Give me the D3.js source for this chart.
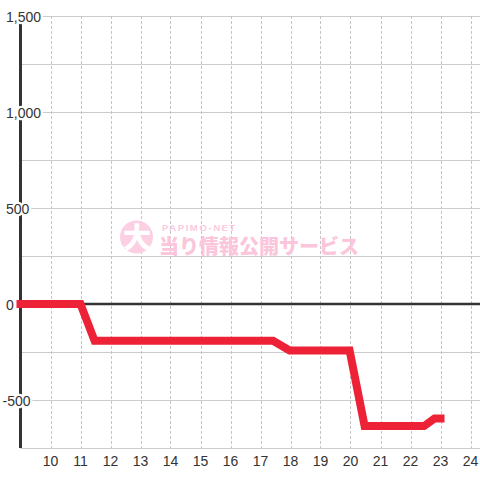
<!DOCTYPE html>
<html>
<head>
<meta charset="utf-8">
<script src="https://cdn.jsdelivr.net/npm/d3@7"></script>
<style>
  html, body { margin: 0; padding: 0; background: #ffffff; }
  svg { display: block; }
</style>
</head>
<body>
<svg id="chart" width="480" height="480"></svg>
<script>
// ---- data ----
const hours = [9, 11, 11.47, 17.42, 17.97, 19.97, 20.47, 22.45, 22.8, 23];
const values = [0, 0, -192, -192, -242, -242, -636, -636, -596, -596];
const xTicks = [10, 11, 12, 13, 14, 15, 16, 17, 18, 19, 20, 21, 22, 23, 24];
const yTicks = [1500, 1000, 500, 0, -500];
const yGrid = [1500, 1250, 1000, 750, 500, 250, -250, -500, -750];

const W = 480, H = 480;
const svg = d3.select("#chart");

const x = d3.scaleLinear().domain([9, 24]).range([20.5, 470.5]);
const y = d3.scaleLinear().domain([-750, 1500]).range([448, 16]);

const font = "'Liberation Sans', Arial, sans-serif";
const textColor = "#333";

// horizontal grid
svg.append("g").selectAll("line").data(yGrid).join("line")
  .attr("x1", x(9)).attr("x2", W)
  .attr("y1", d => Math.round(y(d)) + 0.5).attr("y2", d => Math.round(y(d)) + 0.5)
  .attr("stroke", "#cccccc").attr("stroke-width", 1);

// vertical dotted grid
svg.append("g").selectAll("line").data(xTicks).join("line")
  .attr("x1", d => Math.round(x(d)) + 0.5).attr("x2", d => Math.round(x(d)) + 0.5)
  .attr("y1", y(1500)).attr("y2", y(-750))
  .attr("stroke", "#c4c4c4").attr("stroke-width", 1)
  .attr("stroke-dasharray", "3,2");

// watermark
const wm = svg.append("g").attr("opacity", 1);
wm.append("circle").attr("cx", 136.5).attr("cy", 237).attr("r", 16.5).attr("fill", "#fcd0e2");
wm.append("text").attr("x", 137).attr("y", 248).attr("text-anchor", "middle")
  .attr("font-family", "'Noto Sans CJK JP', sans-serif").attr("font-weight", 900)
  .attr("font-size", 28).attr("fill", "#ffffff").text("大");
wm.append("text").attr("x", 162).attr("y", 231)
  .attr("font-family", "'Liberation Sans', Arial, sans-serif").attr("font-weight", "bold")
  .attr("font-size", 9.5).attr("letter-spacing", 1.6).attr("fill", "#fbcade").text("PAPIMO-NET");
wm.append("text").attr("x", 159).attr("y", 254)
  .attr("font-family", "'Noto Sans CJK JP', sans-serif").attr("font-weight", 900)
  .attr("font-size", 20).attr("fill", "#fbc6dc").text("当り情報公開サービス");

// zero line
svg.append("line")
  .attr("x1", x(9)).attr("x2", W)
  .attr("y1", y(0)).attr("y2", y(0))
  .attr("stroke", "#333").attr("stroke-width", 2.5);

// y axis line
svg.append("line")
  .attr("x1", x(9)).attr("x2", x(9))
  .attr("y1", y(1500)).attr("y2", y(-750))
  .attr("stroke", "#333").attr("stroke-width", 3);

// y tick labels with halo
svg.append("g").selectAll("text").data(yTicks).join("text")
  .attr("x", d => d < 0 ? 2.5 : 6)
  .attr("y", d => y(d) + 5.5)
  .attr("font-family", font).attr("font-size", 14)
  .attr("fill", textColor)
  .attr("stroke", "#ffffff").attr("stroke-width", 4.5)
  .attr("paint-order", "stroke")
  .attr("stroke-linejoin", "round")
  .text(d => d3.format(",")(d).replace("−", "-"));

// x tick labels
svg.append("g").selectAll("text").data(xTicks).join("text")
  .attr("x", d => x(d))
  .attr("y", 465.5)
  .attr("text-anchor", "middle")
  .attr("font-family", font).attr("font-size", 14)
  .attr("fill", textColor)
  .text(d => d);

// data line
const line = d3.line().x((d, i) => x(hours[i])).y(d => y(d));
svg.append("path")
  .attr("d", line(values))
  .attr("fill", "none")
  .attr("stroke", "#ee2236")
  .attr("stroke-width", 8)
  .attr("stroke-linejoin", "miter")
  .attr("stroke-linecap", "square");
</script>
</body>
</html>
